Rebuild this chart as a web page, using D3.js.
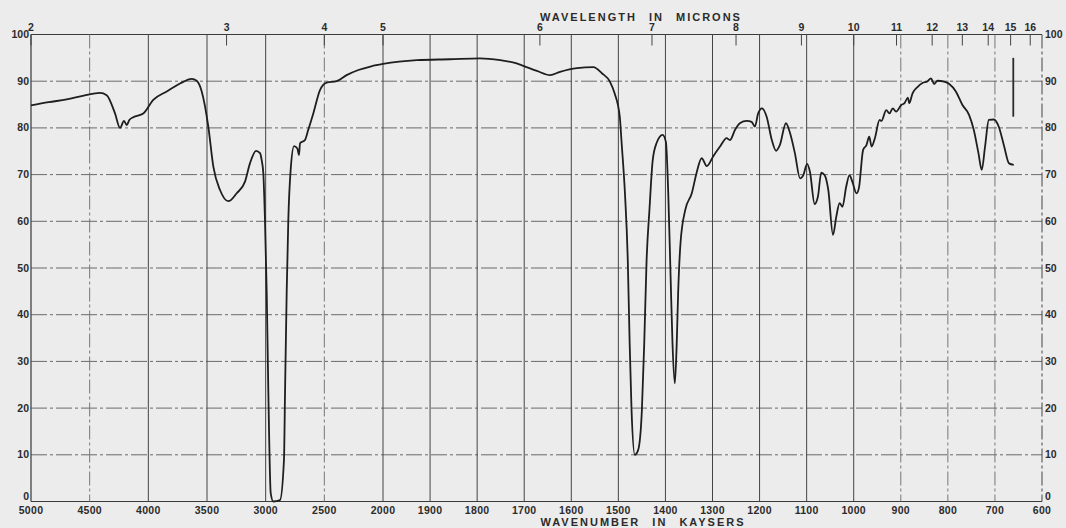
<!DOCTYPE html>
<html><head><meta charset="utf-8">
<script src="https://cdn.jsdelivr.net/npm/d3@7"></script>
<style>
html,body{margin:0;padding:0;background:#ececec;}
svg{display:block;}
text{font-family:"Liberation Sans",Arial,sans-serif;fill:#2b2b2b;}
</style></head>
<body>
<svg id="c" width="1066" height="528"></svg>
<script>
// ---- data ----
const wavenumbers = [5000,4850,4696,4550,4412,4355,4284,4241,4207,4184,4162,4128,4043,3958,3843,3730,3630,3588,3545,3489,3446,3389,3318,3247,3176,3134,3082,3048,3034,3020,3006,2991,2977,2957,2935,2878,2844,2835,2821,2807,2787,2758,2730,2716,2707,2665,2637,2594,2537,2480,2395,2310,2210,2100,2000,1928,1858,1794,1751,1716,1702,1673,1645,1624,1588,1553,1535,1518,1508,1497,1493,1486,1480,1476,1472,1465,1458,1450,1445,1440,1434,1427,1419,1406,1399,1394,1389,1385,1380,1376,1373,1368,1358,1344,1334,1323,1312,1298,1284,1270,1263,1252,1242,1227,1217,1210,1203,1195,1185,1174,1165,1157,1144,1135,1125,1114,1107,1099,1093,1083,1076,1069,1062,1054,1044,1037,1030,1024,1016,1009,1003,994,989,980,973,967,962,955,945,941,931,924,917,910,899,892,885,882,875,864,854,843,836,829,822,808,797,783,769,755,745,735,728,721,713,702,692,681,670,660];
const transmittance = [84.8,85.5,86.1,86.9,87.5,87.0,83.1,80.0,81.5,80.6,81.7,82.3,83.1,86.0,87.8,89.5,90.5,90.1,87.8,80.3,71.7,66.7,64.3,66.0,68.5,72.4,75.1,74.6,73.1,70.3,60.3,44.6,23.2,1.8,0,0.3,8.9,23.2,44.6,60.3,71.0,76.1,75.6,74.2,76.7,77.4,79.6,83.1,88.1,89.7,90.0,91.3,92.4,93.2,93.7,94.5,94.7,94.9,94.5,93.8,93.3,92.2,91.3,92.0,92.8,93.0,91.7,89.9,87.4,82.4,76.7,66.0,51.7,33.9,19.6,10.0,11.0,19.6,33.9,51.7,62.4,73.1,76.7,78.5,77.0,66.0,48.1,33.9,25.3,33.9,44.6,55.3,62.4,66.0,70.3,73.5,71.8,74.0,76.0,77.8,77.4,79.6,81.0,81.5,81.3,80.3,83.1,84.2,82.4,77.4,75.1,76.3,81.0,78.8,74.6,69.2,69.9,72.3,70.6,63.7,65.3,70.4,69.9,66.7,57.1,61.0,63.9,63.1,67.4,69.9,68.5,66.0,67.1,75.3,76.3,78.1,76.0,77.8,81.7,81.5,83.8,83.1,84.2,83.5,84.9,85.3,86.5,85.3,87.4,88.8,89.6,90.0,90.6,89.4,90.1,89.9,89.4,87.8,84.9,82.8,79.6,74.6,71.0,76.0,81.7,81.8,80.3,76.3,72.4,72.1];
const bottomTicks = [5000,4500,4000,3500,3000,2500,2000,1900,1800,1700,1600,1500,1400,1300,1200,1100,1000,900,800,700,600];
const micronTicks = [2,3,4,5,6,7,8,9,10,11,12,13,14,15,16];
const percentTicks = [0,10,20,30,40,50,60,70,80,90,100];
const dashedVerticals = [4500,2500,900,800,700];
const penMark = {wn:661, from:82.4, to:95};

// ---- scales ----
const svg = d3.select("#c");
const x = d3.scaleLinear().domain([5000,2000,600]).range([31,383,1042]);
const y = d3.scaleLinear().domain([0,100]).range([501.5,34.5]);

// grid
const g = svg.append("g");
g.selectAll("line.h").data(percentTicks).join("line")
  .attr("x1",x(5000)).attr("x2",x(600))
  .attr("y1",d=>y(d)).attr("y2",d=>y(d))
  .attr("stroke",d=> (d===0||d===100)?"#3a3a3a":"#6a6a6a")
  .attr("stroke-width",d=> (d===0||d===100)?1.2:1)
  .attr("stroke-dasharray",d=> (d===0||d===100)?null:"16,3,3,3");
g.selectAll("line.v").data(bottomTicks).join("line")
  .attr("x1",d=>x(d)).attr("x2",d=>x(d))
  .attr("y1",y(100)).attr("y2",y(0))
  .attr("stroke",d=>dashedVerticals.includes(d)?"#777":"#444")
  .attr("stroke-width",d=>(d===5000)?1.3:1)
  .attr("stroke-dasharray",d=>(dashedVerticals.includes(d)||d===600)?"14,3,3,3":null);

// micron ticks (top)
g.selectAll("line.m").data(micronTicks).join("line")
  .attr("x1",d=>x(10000/d)).attr("x2",d=>x(10000/d))
  .attr("y1",y(100)).attr("y2",y(100)+11)
  .attr("stroke","#444").attr("stroke-width",1);
svg.selectAll("text.m").data(micronTicks).join("text")
  .attr("x",d=>x(10000/d)).attr("y",31)
  .attr("text-anchor","middle").attr("font-size",10.5).attr("font-weight","bold")
  .text(d=>d);

// bottom labels
svg.selectAll("text.b").data(bottomTicks).join("text")
  .attr("x",d=>x(d)).attr("y",514)
  .attr("text-anchor","middle").attr("font-size",10.5).attr("font-weight","bold")
  .attr("letter-spacing","0.3")
  .text(d=>d);

// left & right labels (0 sits just above the base line)
const labY = d => d===0 ? y(0)-1.5 : y(d)+3.5;
svg.selectAll("text.l").data(percentTicks).join("text")
  .attr("x",29).attr("y",labY)
  .attr("text-anchor","end").attr("font-size",10.5).attr("font-weight","bold")
  .text(d=>d);
svg.selectAll("text.r").data(percentTicks).join("text")
  .attr("x",1045).attr("y",labY)
  .attr("text-anchor","start").attr("font-size",10.5).attr("font-weight","bold")
  .text(d=>d);

// titles
svg.append("text").attr("x",641).attr("y",21).attr("text-anchor","middle")
  .attr("font-size",11).attr("font-weight","bold").attr("letter-spacing","2").attr("word-spacing","7")
  .text("WAVELENGTH IN MICRONS");
svg.append("text").attr("x",643).attr("y",526).attr("text-anchor","middle")
  .attr("font-size",11).attr("font-weight","bold").attr("letter-spacing","2").attr("word-spacing","7")
  .text("WAVENUMBER IN KAYSERS");

// spectrum
const pts = wavenumbers.map((w,i)=>[w,transmittance[i]]);
const line = d3.line().x(d=>x(d[0])).y(d=>y(d[1])).curve(d3.curveMonotoneX);
svg.append("path").datum(pts).attr("d",line)
  .attr("fill","none").attr("stroke","#1e1e1e").attr("stroke-width",1.8).attr("stroke-linejoin","round");

// pen mark
svg.append("line").attr("x1",x(penMark.wn)).attr("x2",x(penMark.wn))
  .attr("y1",y(penMark.to)).attr("y2",y(penMark.from))
  .attr("stroke","#2a2a2a").attr("stroke-width",1.8);
</script>
</body></html>
